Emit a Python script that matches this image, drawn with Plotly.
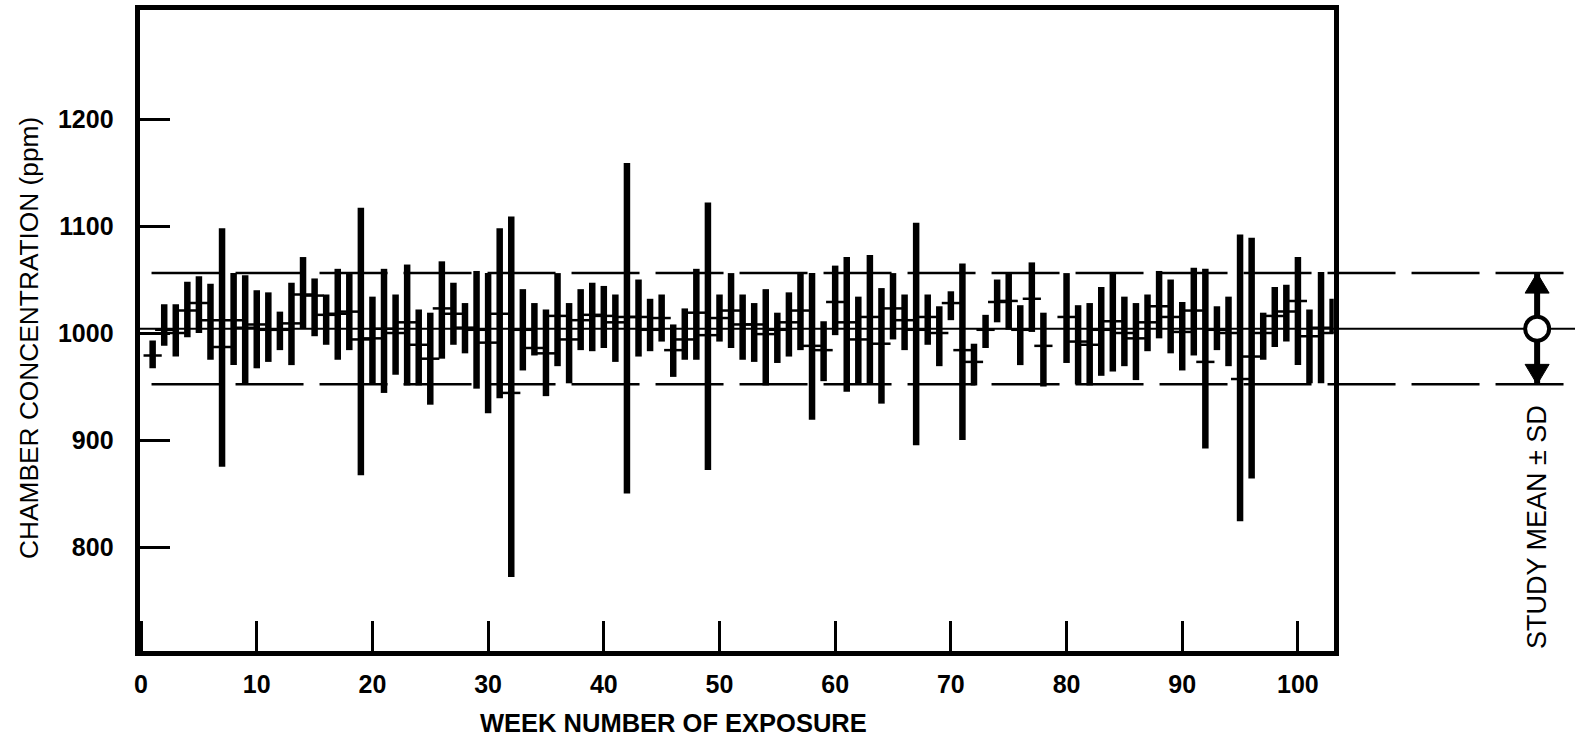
import plotly.graph_objects as go

# Weekly chamber concentration (ppm): range of the week and weekly mean.
# No exposure data were recorded for week 79.
weeks = list(range(1, 79)) + list(range(80, 104))

week_max = [
    993, 1027, 1027, 1048, 1053, 1046, 1098, 1056, 1054, 1040,
    1038, 1020, 1047, 1071, 1051, 1036, 1060, 1056, 1117, 1034,
    1060, 1036, 1064, 1022, 1019, 1067, 1047, 1028, 1058, 1056,
    1098, 1109, 1041, 1028, 1022, 1056, 1028, 1041, 1047, 1044,
    1036, 1159, 1050, 1032, 1036, 1008, 1023, 1060, 1122, 1036,
    1056, 1036, 1028, 1041, 1019, 1038, 1056, 1056, 1011, 1063,
    1071, 1034, 1073, 1042, 1056, 1036, 1103, 1036, 1025, 1039,
    1065, 990, 1017, 1050, 1056, 1026, 1066, 1019,
    1056, 1026, 1028, 1043, 1056, 1034, 1028, 1036, 1058, 1050,
    1029, 1061, 1060, 1025, 1034, 1092, 1089, 1019, 1043, 1045,
    1071, 1022, 1057, 1032,
]

week_min = [
    967, 988, 978, 996, 1000, 975, 875, 970, 953, 967,
    973, 984, 970, 1004, 997, 989, 975, 984, 867, 953,
    944, 961, 951, 951, 933, 976, 989, 981, 948, 925,
    939, 772, 965, 979, 941, 969, 953, 984, 983, 986,
    973, 850, 978, 983, 992, 959, 975, 975, 872, 992,
    986, 975, 973, 951, 972, 978, 984, 919, 955, 998,
    945, 953, 953, 934, 994, 984, 895, 989, 969, 1012,
    900, 951, 986, 1010, 1003, 970, 1001, 950,
    972, 952, 951, 960, 964, 969, 956, 983, 995, 981,
    965, 979, 892, 984, 969, 824, 864, 975, 987, 992,
    970, 953, 953,
]

week_mean = [
    979, 1003, 1000, 1021, 1028, 1012, 987, 1012, 1005, 1008,
    1003, 1003, 1009, 1036, 1035, 1017, 1018, 1020, 994, 995,
    1004, 1000, 1010, 989, 976, 1023, 1018, 1005, 1003, 991,
    1018, 944, 1003, 986, 981, 1016, 994, 1012, 1017, 1016,
    1010, 1015, 1015, 1003, 1014, 984, 994, 1019, 998, 1014,
    1021, 1008, 1008, 999, 1003, 1010, 1021, 988, 984, 1029,
    1010, 994, 1015, 990, 1023, 1012, 1003, 1015, 1000, 1028,
    984, 973, 1003, 1029, 1030, 1003, 1032, 988,
    1015, 992, 989, 1003, 1011, 1000, 995, 1010, 1025, 1015,
    1001, 1021, 973, 1003, 1000, 957, 978, 1000, 1016, 1020,
    1030, 997, 1005, 1000,
]

# Study-wide mean and standard deviation (ppm)
study_mean = 1004
study_sd = 52

x_ticks = [0, 10, 20, 30, 40, 50, 60, 70, 80, 90, 100]
y_ticks = [800, 900, 1000, 1100, 1200]

W, H = 1575, 738


def px(x):
    return x / W


def py(y):
    return 1 - y / H


FONT = "Liberation Sans, Arial, Helvetica, sans-serif"
INK = "black"

err_up = [hi - m for hi, m in zip(week_max, week_mean)]
err_dn = [m - lo for lo, m in zip(week_min, week_mean)]

fig = go.Figure()
fig.add_trace(go.Scatter(
    x=weeks,
    y=week_mean,
    mode="markers",
    marker=dict(symbol="line-ew", size=13, color=INK,
                line=dict(width=2.5, color=INK)),
    error_y=dict(type="data", symmetric=False, array=err_up,
                 arrayminus=err_dn, thickness=6.5, width=0, color=INK),
    showlegend=False,
    hoverinfo="skip",
))

axis_common = dict(
    showgrid=False,
    zeroline=False,
    showline=True,
    linewidth=5,
    linecolor=INK,
    mirror=True,
    ticks="inside",
    ticklen=30,
    tickwidth=3,
    tickcolor=INK,
)

shapes = []
right_x = px(1537)

# study mean (solid) and mean +/- SD (dashed), carried past the frame
shapes.append(dict(type="line", xref="paper", yref="y",
                   x0=px(135), x1=1.0, y0=study_mean, y1=study_mean,
                   line=dict(color=INK, width=2)))
for level in (study_mean + study_sd, study_mean - study_sd):
    shapes.append(dict(type="line", xref="paper", yref="y",
                       x0=px(147), x1=1.0, y0=level, y1=level,
                       line=dict(color=INK, width=2.5, dash="68px,16px")))

# key: study mean +/- SD as a double arrow through an open circle
shapes.append(dict(type="line", xref="paper", yref="y",
                   x0=right_x, x1=right_x,
                   y0=study_mean - study_sd, y1=study_mean + study_sd,
                   line=dict(color=INK, width=6)))
shapes.append(dict(type="path", xref="paper", yref="y",
                   xsizemode="pixel", ysizemode="pixel",
                   xanchor=right_x, yanchor=study_mean + study_sd,
                   path="M0,0 L-12,-20 L12,-20 Z",
                   fillcolor=INK, line=dict(color=INK, width=1)))
shapes.append(dict(type="path", xref="paper", yref="y",
                   xsizemode="pixel", ysizemode="pixel",
                   xanchor=right_x, yanchor=study_mean - study_sd,
                   path="M0,0 L-12,20 L12,20 Z",
                   fillcolor=INK, line=dict(color=INK, width=1)))
shapes.append(dict(type="circle", xref="paper", yref="y",
                   xsizemode="pixel", ysizemode="pixel",
                   xanchor=right_x, yanchor=study_mean,
                   x0=-12, x1=12, y0=-12, y1=12,
                   fillcolor="white", line=dict(color=INK, width=4)))

annotations = [
    dict(text="WEEK NUMBER OF EXPOSURE", xref="paper", yref="paper",
         x=px(671), y=py(723), xanchor="center", yanchor="middle",
         showarrow=False,
         font=dict(family=FONT, size=25.5, color=INK, weight="bold")),
    dict(text="CHAMBER CONCENTRATION (ppm)", xref="paper", yref="paper",
         x=px(24), y=py(338), xanchor="center", yanchor="middle",
         showarrow=False, textangle=-90,
         font=dict(family=FONT, size=26.3, color=INK)),
    dict(text="STUDY MEAN ± SD", xref="paper", yref="paper",
         x=px(1537), y=py(527), xanchor="center", yanchor="middle",
         showarrow=False, textangle=-90,
         font=dict(family=FONT, size=27, color=INK)),
]

fig.update_layout(
    width=W,
    height=H,
    margin=dict(l=0, r=0, t=0, b=0),
    paper_bgcolor="white",
    plot_bgcolor="white",
    xaxis=dict(
        domain=[px(135), px(1333)],
        range=[-0.13, 103.1],
        tickvals=x_ticks,
        ticklabelstandoff=7,
        tickfont=dict(family=FONT, size=25, color=INK, weight="bold"),
        **axis_common,
    ),
    yaxis=dict(
        domain=[py(651), py(10)],
        range=[702.8, 1301.9],
        tickvals=y_ticks,
        ticklabelstandoff=16,
        tickfont=dict(family=FONT, size=25, color=INK, weight="bold"),
        **axis_common,
    ),
    shapes=shapes,
    annotations=annotations,
)

fig.write_html("out.html")
